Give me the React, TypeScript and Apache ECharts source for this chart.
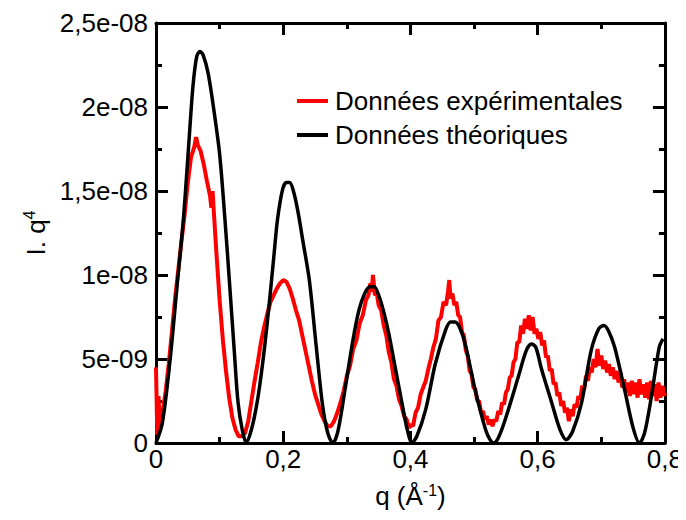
import React, { useEffect, useRef } from "react";
import * as echarts from "echarts";

const xTickLabels = ["0", "0,2", "0,4", "0,6", "0,8"];
const yTickLabels = ["0", "5e-09", "1e-08", "1,5e-08", "2e-08", "2,5e-08"];
const seriesNames = ["Données expérimentales", "Données théoriques"];

// q (Å^-1) and I.q^4 in units of 1e-8
const expQ = [
  0, 0.002, 0.004, 0.006, 0.01, 0.015, 0.02, 0.025, 0.03, 0.035, 0.04, 0.045, 0.05, 0.055, 0.06, 0.063, 0.066,
  0.07, 0.075, 0.08, 0.085, 0.087, 0.089, 0.091, 0.095, 0.1, 0.105, 0.11, 0.115, 0.12, 0.125, 0.13, 0.135, 0.14,
  0.145, 0.15, 0.155, 0.16, 0.165, 0.17, 0.175, 0.18, 0.185, 0.19, 0.195, 0.2, 0.205, 0.21, 0.215, 0.22, 0.225,
  0.23, 0.235, 0.24, 0.245, 0.25, 0.255, 0.26, 0.265, 0.27, 0.275, 0.28, 0.285, 0.29, 0.295,
  0.3, 0.305, 0.31, 0.315, 0.32, 0.325, 0.33, 0.334, 0.337, 0.339, 0.341, 0.344, 0.347, 0.35, 0.354, 0.358,
  0.362, 0.366, 0.37, 0.374, 0.378, 0.382, 0.386, 0.39, 0.394, 0.398, 0.401, 0.404, 0.408, 0.412, 0.416,
  0.42, 0.424, 0.428, 0.432, 0.436, 0.44, 0.444, 0.448, 0.452, 0.456, 0.459, 0.461, 0.463, 0.466, 0.469, 0.472,
  0.475, 0.478, 0.481, 0.484, 0.487, 0.49, 0.493, 0.496, 0.499, 0.502, 0.505, 0.508, 0.511, 0.514, 0.517, 0.52,
  0.523, 0.526, 0.529, 0.532, 0.535, 0.538, 0.541, 0.544, 0.547, 0.55, 0.553, 0.556, 0.559, 0.562, 0.565, 0.568,
  0.571, 0.574, 0.577, 0.58, 0.583, 0.586, 0.589, 0.592, 0.595, 0.598, 0.601, 0.604, 0.607, 0.61, 0.613, 0.616,
  0.619, 0.622, 0.625, 0.628, 0.631, 0.634, 0.637, 0.64, 0.643, 0.646, 0.649, 0.652, 0.655, 0.658, 0.661, 0.664,
  0.667, 0.67, 0.673, 0.676, 0.679, 0.682, 0.685, 0.688, 0.691, 0.694, 0.697, 0.7, 0.703, 0.706, 0.709, 0.712,
  0.715, 0.718, 0.721, 0.724, 0.727, 0.73, 0.733, 0.736, 0.739, 0.742, 0.745, 0.748, 0.751, 0.754, 0.757, 0.76,
  0.763, 0.766, 0.769, 0.772, 0.775, 0.778, 0.781, 0.784, 0.787, 0.79, 0.793, 0.796, 0.799, 0.8,
];
const expI = [
  0.45, 0.05, 0.28, 0.08, 0.18, 0.3, 0.47, 0.66, 0.86, 1.03, 1.2, 1.36, 1.55, 1.7, 1.76, 1.82, 1.77,
  1.74, 1.66, 1.56, 1.47, 1.4, 1.5, 1.37, 1.13, 0.85, 0.62, 0.43, 0.27, 0.15, 0.08, 0.04, 0.04, 0.06,
  0.13, 0.25, 0.37, 0.48, 0.6, 0.69, 0.77, 0.84, 0.88, 0.92, 0.95, 0.97, 0.96, 0.92, 0.86, 0.79, 0.73,
  0.64, 0.55, 0.46, 0.37, 0.29, 0.23, 0.17, 0.13, 0.1, 0.1, 0.13, 0.18, 0.24, 0.31,
  0.4, 0.46, 0.56, 0.61, 0.71, 0.76, 0.85, 0.88, 0.95, 0.9, 1.0, 0.88, 0.89, 0.82, 0.79, 0.7,
  0.64, 0.54, 0.48, 0.38, 0.34, 0.26, 0.22, 0.16, 0.14, 0.09, 0.11, 0.1, 0.18, 0.21, 0.29,
  0.33, 0.37, 0.44, 0.5, 0.57, 0.62, 0.73, 0.75, 0.84, 0.82, 0.9, 0.97, 0.86, 0.89, 0.82, 0.84,
  0.76, 0.75, 0.66, 0.64, 0.55, 0.52, 0.43, 0.41, 0.33, 0.32, 0.25, 0.25, 0.18, 0.19, 0.14, 0.16,
  0.11, 0.14, 0.1, 0.14, 0.13, 0.19, 0.17, 0.24, 0.23, 0.3, 0.32, 0.39, 0.4, 0.48, 0.5, 0.6,
  0.6, 0.7, 0.65, 0.74, 0.68, 0.76, 0.67, 0.75, 0.65, 0.68, 0.62, 0.66, 0.58, 0.61, 0.51, 0.52,
  0.43, 0.44, 0.35, 0.36, 0.28, 0.3, 0.22, 0.25, 0.18, 0.21, 0.13, 0.2, 0.16, 0.23, 0.21, 0.28,
  0.26, 0.34, 0.32, 0.4, 0.37, 0.45, 0.42, 0.5, 0.45, 0.56, 0.46, 0.52, 0.44, 0.49, 0.42, 0.47,
  0.4, 0.45, 0.38, 0.43, 0.36, 0.42, 0.33, 0.38, 0.3, 0.36, 0.28, 0.37, 0.29, 0.36, 0.27, 0.38,
  0.29, 0.35, 0.27, 0.36, 0.26, 0.37, 0.28, 0.35, 0.25, 0.36, 0.27, 0.34, 0.28, 0.3,
];

const theoQ = [
  0, 0.01, 0.022, 0.033, 0.043, 0.051, 0.058, 0.064, 0.069, 0.074, 0.082, 0.091, 0.1, 0.108, 0.116, 0.123,
  0.129, 0.136, 0.142, 0.15, 0.157, 0.163, 0.171, 0.178, 0.185, 0.191, 0.199, 0.205, 0.21, 0.216, 0.223,
  0.231, 0.241, 0.252, 0.262, 0.27, 0.278, 0.286, 0.298, 0.309, 0.319, 0.328, 0.336, 0.343, 0.35, 0.358,
  0.366, 0.376, 0.387, 0.395, 0.402, 0.41, 0.424, 0.439, 0.455, 0.463, 0.47, 0.477, 0.486, 0.502, 0.518,
  0.525, 0.531, 0.538, 0.549, 0.57, 0.582, 0.59, 0.597, 0.606, 0.622, 0.635, 0.645, 0.655, 0.669, 0.684,
  0.696, 0.704, 0.711, 0.721, 0.737, 0.75, 0.76, 0.768, 0.778, 0.791, 0.797,
];
const theoI = [
  0, 0.12, 0.49, 0.93, 1.33, 1.75, 2.12, 2.3, 2.33, 2.31, 2.2, 1.98, 1.72, 1.35, 0.93, 0.55,
  0.24, 0.07, 0, 0.08, 0.2, 0.34, 0.58, 0.83, 1.1, 1.33, 1.51, 1.55, 1.55, 1.5, 1.38,
  1.2, 0.97, 0.57, 0.22, 0.06, 0, 0.07, 0.34, 0.6, 0.79, 0.89, 0.93, 0.93, 0.88, 0.78,
  0.65, 0.45, 0.23, 0.08, 0, 0.04, 0.2, 0.47, 0.67, 0.72, 0.72, 0.69, 0.59, 0.31, 0.08,
  0.02, 0, 0.03, 0.14, 0.4, 0.55, 0.59, 0.57, 0.44, 0.24, 0.08, 0.02, 0.07, 0.24, 0.55,
  0.68, 0.7, 0.67, 0.57, 0.31, 0.09, 0, 0.06, 0.26, 0.57, 0.62,
];

const FONT = "Liberation Sans, Arial, Helvetica, sans-serif";

export default function App() {
  const ref = useRef<HTMLDivElement>(null);
  useEffect(() => {
    if (!ref.current) return;
    const chart = echarts.init(ref.current, undefined, { renderer: "svg" });
    const expData = expQ.map((q, i) => [q, expI[i]]);
    const theoData = theoQ.map((q, i) => [q, theoI[i]]);
    const lineAxis = { show: true, onZero: false, lineStyle: { color: "#000", width: 3 } };
    const majorTick = { show: true, inside: true, length: 12, lineStyle: { color: "#000", width: 3 } };
    const minorTick = { show: true, splitNumber: 2, length: 6, lineStyle: { color: "#000", width: 3 } };
    const xBase = { type: "value", min: 0, max: 0.8, interval: 0.2, axisLine: lineAxis, axisTick: majorTick, minorTick, splitLine: { show: false } };
    const yBase = { type: "value", min: 0, max: 2.5, interval: 0.5, axisLine: lineAxis, axisTick: majorTick, minorTick, splitLine: { show: false } };
    const supRich = { sup: { fontFamily: FONT, fontSize: 16, color: "#000", verticalAlign: "top", padding: [0, 0, 12, 0] } };
    chart.setOption({
      animation: false,
      backgroundColor: "#fff",
      grid: { left: 156, right: 19, top: 23, bottom: 77, containLabel: false },
      legend: {
        orient: "vertical",
        left: 292,
        top: 83,
        itemWidth: 31,
        itemHeight: 4,
        itemGap: 8,
        icon: "rect",
        textStyle: { fontFamily: FONT, fontSize: 26, color: "#000", padding: [0, 0, 0, 2] },
        data: seriesNames,
      },
      xAxis: [
        {
          ...xBase,
          position: "bottom",
          axisLabel: {
            fontFamily: FONT,
            fontSize: 26,
            color: "#000",
            margin: 3,
            formatter: (v: number) => xTickLabels[Math.round(v / 0.2)] ?? "",
          },
          name: "q (Å{sup|-1})",
          nameLocation: "middle",
          nameGap: 39,
          nameTextStyle: { fontFamily: FONT, fontSize: 26, color: "#000", rich: supRich },
        },
        { ...xBase, position: "top", axisLabel: { show: false } },
      ],
      yAxis: [
        {
          ...yBase,
          position: "left",
          axisLabel: {
            fontFamily: FONT,
            fontSize: 26,
            color: "#000",
            margin: 8,
            formatter: (v: number) => yTickLabels[Math.round(v / 0.5)] ?? "",
          },
          name: "I. q{sup|4}",
          nameLocation: "middle",
          nameGap: 104,
          nameRotate: 90,
          nameTextStyle: { fontFamily: FONT, fontSize: 26, color: "#000", rich: supRich },
        },
        { ...yBase, position: "right", axisLabel: { show: false } },
      ],
      series: [
        {
          name: seriesNames[0],
          type: "line",
          data: expData,
          showSymbol: false,
          lineStyle: { color: "#ff0000", width: 4 },
          itemStyle: { color: "#ff0000" },
          z: 2,
        },
        {
          name: seriesNames[1],
          type: "line",
          data: theoData,
          smooth: 0.3,
          showSymbol: false,
          lineStyle: { color: "#000", width: 3.5 },
          itemStyle: { color: "#000" },
          z: 3,
        },
      ],
    });
    return () => chart.dispose();
  }, []);
  return <div ref={ref} style={{ width: 686, height: 520, margin: -8 }} />;
}
